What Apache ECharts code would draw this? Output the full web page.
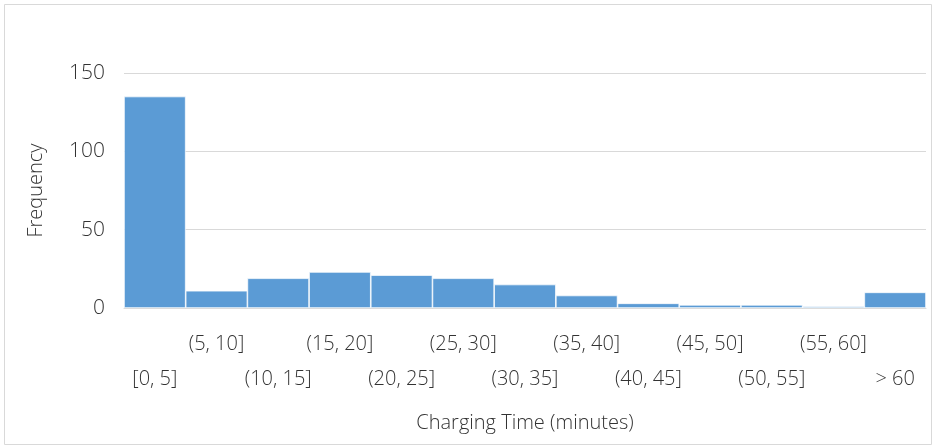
<!DOCTYPE html>
<html><head><meta charset="utf-8">
<script src="https://cdn.jsdelivr.net/npm/echarts@6/dist/echarts.min.js"></script>
<style>html,body{margin:0;padding:0;background:#fff}#c{width:935px;height:448px}</style>
</head><body><div id="c"></div>
<script>
const categories = ['[0, 5]','(5, 10]','(10, 15]','(15, 20]','(20, 25]','(25, 30]','(30, 35]','(35, 40]','(40, 45]','(45, 50]','(50, 55]','(55, 60]','> 60'];
const frequency = [135, 11, 19, 23, 21, 19, 15, 8, 3, 2, 2, 1, 10];
const yTicks = [0, 50, 100, 150];

const chart = echarts.init(document.getElementById('c'));
const font = '"Open Sans", sans-serif';
chart.setOption({
  animation: false,
  graphic: [{type:'rect', shape:{x:4.5,y:4.5,width:927,height:440}, style:{fill:'none', stroke:'#d9d9d9', lineWidth:1}, silent:true}],
  grid: {left:124, right:9, top:73, bottom:140},
  xAxis: {
    type:'category', data: categories,
    axisTick:{show:false},
    axisLine:{lineStyle:{color:'#d9d9d9'}},
    axisLabel:{
      interval:0, color:'#333333', fontFamily:font, fontSize:20, fontWeight:300, margin:19, lineHeight:35,
      formatter:(v, i) => i % 2 === 0 ? '\n' + v : v
    },
    name:'Charging Time (minutes)', nameLocation:'middle', nameGap:105,
    nameTextStyle:{color:'#333333', fontFamily:font, fontSize:20, fontWeight:300}
  },
  yAxis: {
    type:'value', min:yTicks[0], max:yTicks[yTicks.length-1], interval:50,
    axisLine:{show:false}, axisTick:{show:false},
    splitLine:{lineStyle:{color:'#d9d9d9'}},
    axisLabel:{color:'#333333', fontFamily:font, fontSize:21, fontWeight:300, margin:19},
    name:'Frequency', nameLocation:'middle', nameGap:78,
    nameTextStyle:{color:'#333333', fontFamily:font, fontSize:20, fontWeight:300}
  },
  series: [{
    type:'bar', data: frequency, barCategoryGap:'0%',
    itemStyle:{color:'#5B9BD5', borderColor:'#ffffff', borderWidth:0.7}
  }]
});
</script></body></html>
